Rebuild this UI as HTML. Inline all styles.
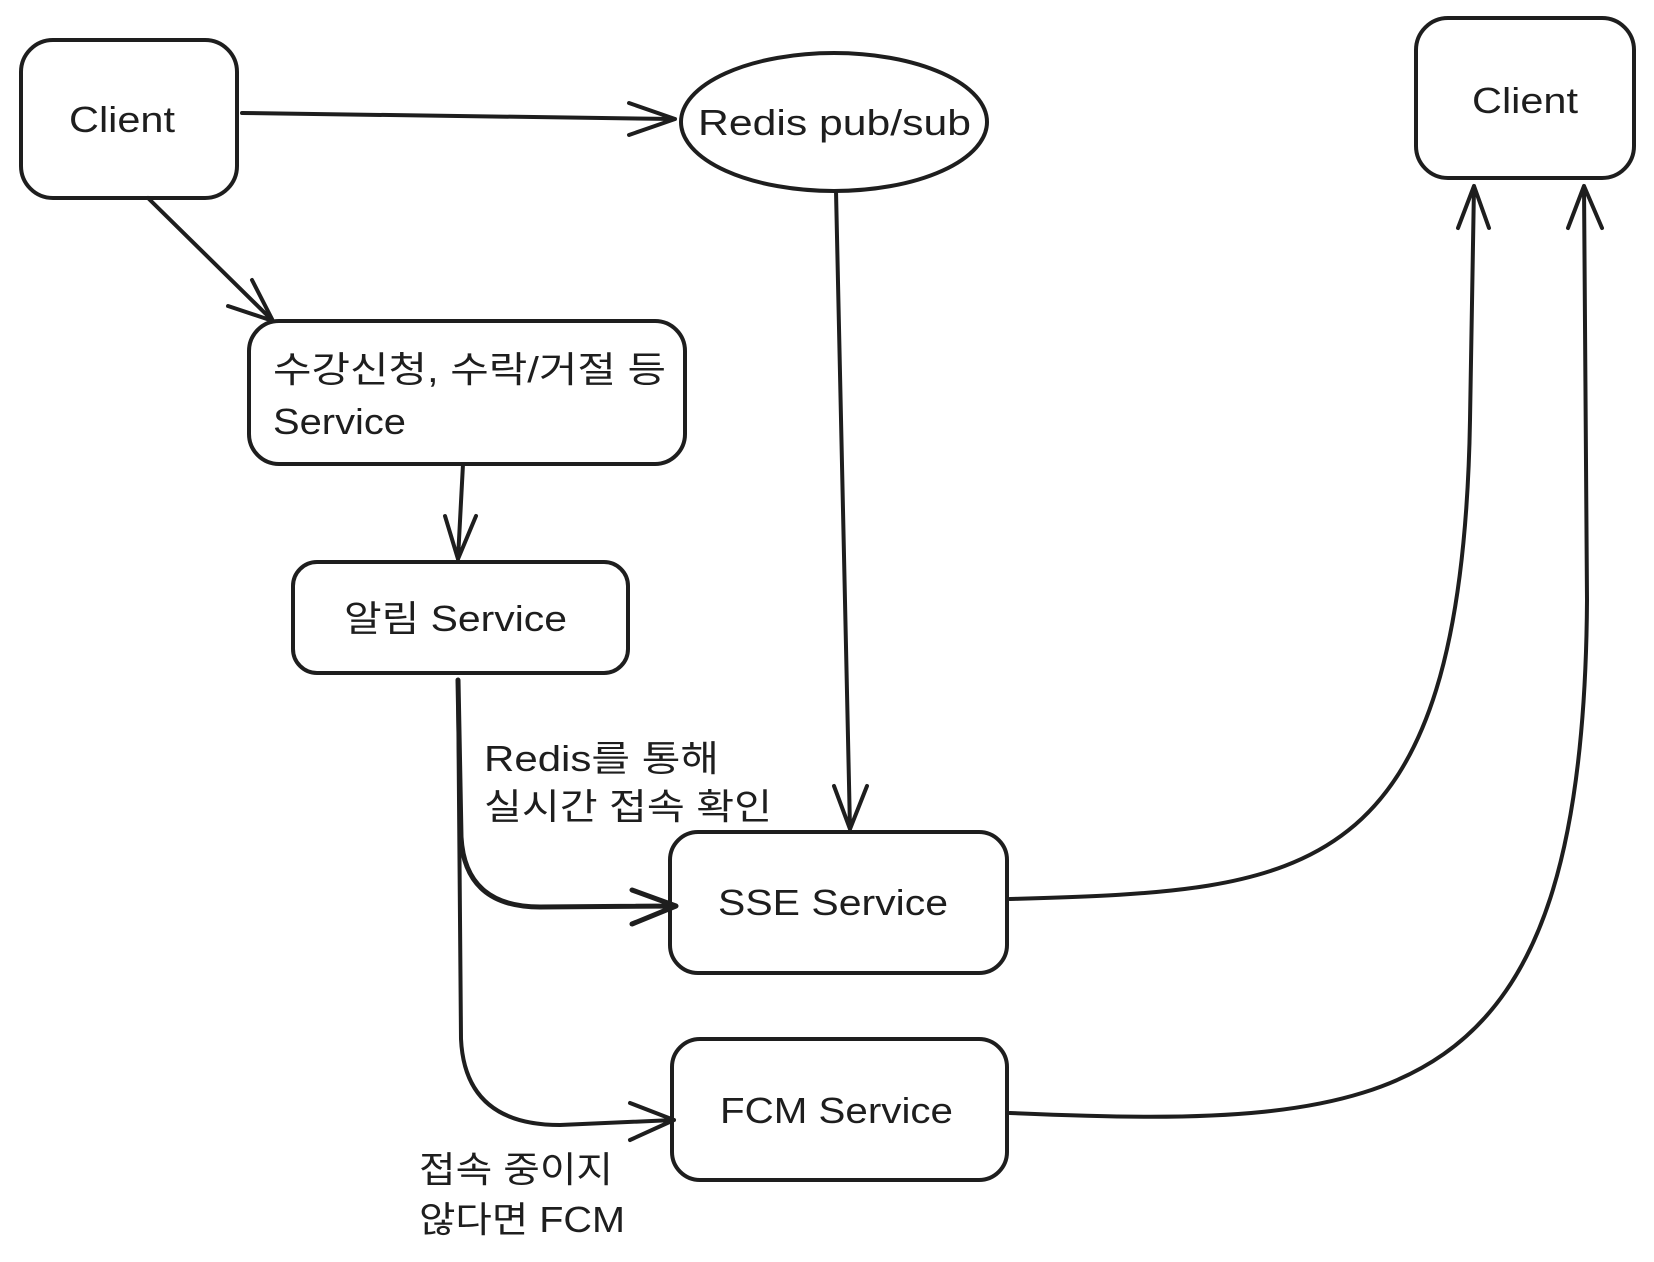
<!DOCTYPE html>
<html><head><meta charset="utf-8"><style>
html,body{margin:0;padding:0;background:#fff;width:1654px;height:1262px;overflow:hidden}
svg text{font-family:"Liberation Sans","Noto Sans CJK KR",sans-serif;fill:#1e1e1e;font-size:36px}
</style></head><body>
<svg width="1654" height="1262" viewBox="0 0 1654 1262" xmlns="http://www.w3.org/2000/svg">
<g fill="none" stroke="#1e1e1e" stroke-width="4" stroke-linecap="round" stroke-linejoin="round">
<rect x="21" y="40" width="216" height="158" rx="32"/>
<ellipse cx="834" cy="122" rx="153" ry="69"/>
<rect x="1416" y="18" width="218" height="160" rx="32"/>
<rect x="249" y="321" width="436" height="143" rx="30"/>
<rect x="293" y="562" width="335" height="111" rx="24"/>
<rect x="670" y="832" width="337" height="141" rx="28"/>
<rect x="672" y="1039" width="335" height="141" rx="28"/>
<path d="M242 113 L675 119 M629 103 L675 119 L629 135"/>
<path d="M148 198 L273 321 M252 280 L273 321 L228 306"/>
<path d="M463 464 L458 559 M445 516 L458 559 L476 516"/>
<path d="M836 191 L850 829 M834 786 L850 829 L867 786"/>
<path d="M458 680 L461 837 Q465 907 540 907 L676 906 M632 890 L676 906 L632 924" stroke-width="5"/>
<path d="M458 680 L461 1039 Q465 1125 560 1125 L674 1120 M630 1103 L674 1120 L630 1140"/>
<path d="M1010 899 C1300 890 1462 890 1470 420 L1474 186 M1458 228 L1474 186 L1489 228"/>
<path d="M1010 1113 C1400 1130 1584 1110 1587 600 L1584 186 M1568 228 L1584 186 L1602 228"/>
</g>
<text x="69" y="132" textLength="106" lengthAdjust="spacingAndGlyphs">Client</text>
<text x="698" y="135" textLength="273" lengthAdjust="spacingAndGlyphs">Redis pub/sub</text>
<text x="1472" y="113" textLength="106" lengthAdjust="spacingAndGlyphs">Client</text>
<text x="273" y="382" textLength="393" lengthAdjust="spacingAndGlyphs">수강신청, 수락/거절 등</text>
<text x="273" y="434" textLength="133" lengthAdjust="spacingAndGlyphs">Service</text>
<text x="344" y="631" textLength="223" lengthAdjust="spacingAndGlyphs">알림 Service</text>
<text x="718" y="915" textLength="230" lengthAdjust="spacingAndGlyphs">SSE Service</text>
<text x="720" y="1123" textLength="233" lengthAdjust="spacingAndGlyphs">FCM Service</text>
<text x="484" y="771" textLength="235" lengthAdjust="spacingAndGlyphs">Redis를 통해</text>
<text x="484" y="819" textLength="288" lengthAdjust="spacingAndGlyphs">실시간 접속 확인</text>
<text x="419" y="1182" textLength="194" lengthAdjust="spacingAndGlyphs">접속 중이지</text>
<text x="419" y="1232" textLength="206" lengthAdjust="spacingAndGlyphs">않다면 FCM</text>
</svg>
</body></html>
